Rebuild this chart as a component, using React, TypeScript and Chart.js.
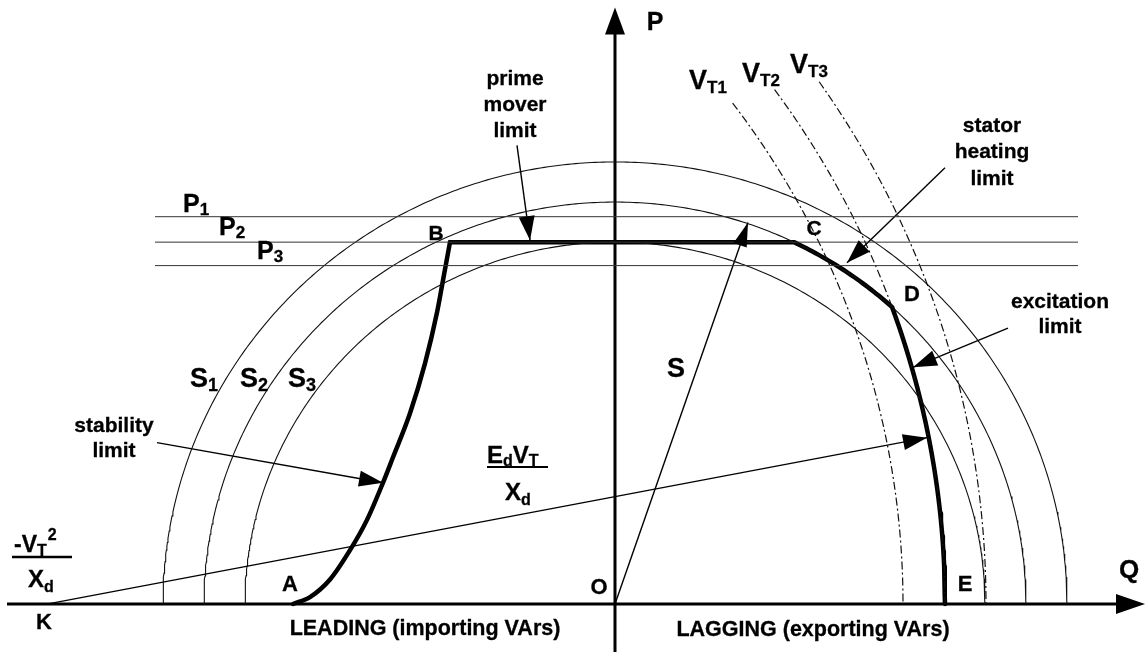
import React, { useEffect, useRef } from "react";
import { Chart, registerables } from "chart.js";

Chart.register(...registerables);

// ---- axis ranges (Q = reactive power, P = active power, arbitrary MVA units) ----
const Q_MIN = -615;
const Q_MAX = 533;
const P_MIN = -49.1;
const P_MAX = 617.6;

// ---- data ----
const statorRadii = [452, 411, 370]; // S1, S2, S3 circles centred at O
const statorNames = ["1", "2", "3"];
const primeMoverLevels = [396, 370, 346]; // P1, P2, P3
const levelQRange = [-460, 463];
const kQ = -567; // K = -VT^2 / Xd
const voltageRadii = [855, 897, 938]; // VT1, VT2, VT3 circles centred at K
const voltageStartDeg = [36.8, 35.9, 34.7];
const voltageNames = ["T1", "T2", "T3"];
const operatingP = 370; // prime mover limit (P2)
const ratedS = 411; // stator heating limit (S2)
const excitationRadius = 897; // EdVT/Xd
const stabilityQ = [-322, -305, -285, -265, -248, -232, -222, -205, -190, -178, -172, -165];
const stabilityP = [0, 7, 25, 55, 86, 124, 150, 195, 246, 298, 331, 370];
const sArrowTip = [133, 390];
const edArrowTip = [312, 170];
const annotationArrows = [
  { from: [-458, 165], to: [-232, 124] }, // stability limit
  { from: [-98, 469], to: [-85, 372] }, // prime mover limit
  { from: [330, 446], to: [232, 349] }, // stator heating limit
  { from: [393, 282], to: [298, 242] }, // excitation limit
];
const qAxisRange = [-608, 530];
const pAxisRange = [-49, 610];

const FONT = '"Liberation Sans", Arial, Helvetica, sans-serif';

type Pt = { x: number; y: number };

function arcPoints(cq: number, r: number, fromDeg: number, toDeg: number): Pt[] {
  const pts: Pt[] = [];
  const n = Math.max(2, Math.ceil(Math.abs(toDeg - fromDeg) / 0.5));
  for (let i = 0; i <= n; i++) {
    const a = ((fromDeg + ((toDeg - fromDeg) * i) / n) * Math.PI) / 180;
    pts.push({ x: cq + r * Math.cos(a), y: r * Math.sin(a) });
  }
  return pts;
}

function lineDs(data: Pt[], width: number, color = "#000", extra: any = {}) {
  return {
    data,
    showLine: true,
    borderColor: color,
    borderWidth: width,
    pointRadius: 0,
    pointHoverRadius: 0,
    fill: false,
    tension: 0,
    ...extra,
  };
}

function buildDatasets() {
  const ds: any[] = [];
  primeMoverLevels.forEach((p) => {
    ds.push(lineDs([{ x: levelQRange[0], y: p }, { x: levelQRange[1], y: p }], 1, "#333"));
  });
  statorRadii.forEach((r) => ds.push(lineDs(arcPoints(0, r, 180, 0), 1.1, "#111")));
  voltageRadii.forEach((r, i) =>
    ds.push(lineDs(arcPoints(kQ, r, voltageStartDeg[i], 0), 1.2, "#111", { borderDash: [8, 3, 2, 3] }))
  );
  ds.push(lineDs([{ x: kQ, y: 0 }, { x: edArrowTip[0], y: edArrowTip[1] }], 1.3));
  ds.push(lineDs([{ x: 0, y: 0 }, { x: sArrowTip[0], y: sArrowTip[1] }], 1.4));
  annotationArrows.forEach((a) =>
    ds.push(lineDs([{ x: a.from[0], y: a.from[1] }, { x: a.to[0], y: a.to[1] }], 1.4))
  );
  ds.push(
    lineDs(
      stabilityQ.map((q, i) => ({ x: q, y: stabilityP[i] })),
      4.5,
      "#000",
      { cubicInterpolationMode: "monotone", borderCapStyle: "round", borderJoinStyle: "round" }
    )
  );
  const c = -kQ;
  const qC = Math.sqrt(ratedS * ratedS - operatingP * operatingP);
  const qD = (excitationRadius ** 2 - ratedS ** 2 - c * c) / (2 * c);
  const pD = Math.sqrt(ratedS ** 2 - qD ** 2);
  const angC = (Math.atan2(operatingP, qC) * 180) / Math.PI;
  const angD = (Math.atan2(pD, qD) * 180) / Math.PI;
  const angDK = (Math.atan2(pD, qD - kQ) * 180) / Math.PI;
  const env: Pt[] = [
    { x: stabilityQ[stabilityQ.length - 1], y: operatingP },
    ...arcPoints(0, ratedS, angC, angD),
    ...arcPoints(kQ, excitationRadius, angDK, 0),
  ];
  ds.push(lineDs(env, 4.5, "#000", { borderCapStyle: "round", borderJoinStyle: "round" }));
  ds.push(lineDs([{ x: qAxisRange[0], y: 0 }, { x: qAxisRange[1] - 20, y: 0 }], 3));
  ds.push(lineDs([{ x: 0, y: pAxisRange[0] }, { x: 0, y: pAxisRange[1] - 20 }], 3));
  return ds;
}

const labelPlugin = {
  id: "diagramLabels",
  afterDatasetsDraw(chart: any) {
    const ctx: CanvasRenderingContext2D = chart.ctx;
    const xs = chart.scales.x;
    const ys = chart.scales.y;
    const X = (q: number) => xs.getPixelForValue(q);
    const Y = (p: number) => ys.getPixelForValue(p);
    ctx.save();
    ctx.fillStyle = "#000";
    ctx.strokeStyle = "#000";

    const head = (q0: number, p0: number, q1: number, p1: number, len: number, half: number) => {
      const x0 = X(q0), y0 = Y(p0), x1 = X(q1), y1 = Y(p1);
      const a = Math.atan2(y1 - y0, x1 - x0);
      const c = Math.cos(a), s = Math.sin(a);
      ctx.beginPath();
      ctx.moveTo(x1, y1);
      ctx.lineTo(x1 - len * c + half * s, y1 - len * s - half * c);
      ctx.lineTo(x1 - len * c - half * s, y1 - len * s + half * c);
      ctx.closePath();
      ctx.fill();
    };
    head(qAxisRange[0], 0, qAxisRange[1], 0, 29, 10);
    head(0, pAxisRange[0], 0, pAxisRange[1], 27, 10);
    annotationArrows.forEach((a) => head(a.from[0], a.from[1], a.to[0], a.to[1], 24, 8));
    head(0, 0, sArrowTip[0], sArrowTip[1], 24, 7);
    head(kQ, 0, edArrowTip[0], edArrowTip[1], 24, 8);

    const text = (
      s: string, x: number, y: number, size: number,
      align: CanvasTextAlign = "center", base: CanvasTextBaseline = "alphabetic"
    ) => {
      ctx.font = `bold ${size}px ${FONT}`;
      ctx.textAlign = align;
      ctx.textBaseline = base;
      ctx.fillText(s, x, y);
      ctx.lineWidth = 0.3;
      ctx.strokeText(s, x, y);
      return ctx.measureText(s).width;
    };
    const tq = (s: string, q: number, p: number, size: number) => text(s, X(q), Y(p), size, "center", "middle");

    tq("P", 40, 594, 25);
    tq("Q", 514, 34, 26);
    tq("O", -16, 16, 22);
    tq("K", -571, -19, 22);
    tq("A", -325, 19, 22);
    tq("B", -179, 378, 21);
    tq("C", 199, 383, 21);
    tq("D", 297, 316, 22);
    tq("E", 350, 19, 22);
    tq("S", 61, 240, 27);
    tq("LEADING (importing VArs)", -190, -26, 21.5);
    tq("LAGGING (exporting VArs)", 198, -27, 21.5);

    const ann = (lines: string[], q: number, ps: number[]) =>
      lines.forEach((l, i) => text(l, X(q), Y(ps[i]), 21, "center", "alphabetic"));
    ann(["stability", "limit"], -501, [176, 150]);
    ann(["prime", "mover", "limit"], -100, [531, 504, 477]);
    ann(["stator", "heating", "limit"], 377, [483, 456, 428]);
    ann(["excitation", "limit"], 445, [303, 277]);

    const subLabel = (main: string, sub: string, q: number, p: number, ms: number, ss: number, dy: number) => {
      const x = X(q), y = Y(p);
      const w = text(main, x, y, ms, "left", "alphabetic");
      text(sub, x + w, y + dy, ss, "left", "alphabetic");
    };
    const sPos = [-425, -375, -327];
    statorNames.forEach((n, i) => subLabel("S", n, sPos[i], 222, 27, 18, 4));
    const pPos = [[-432, 401], [-396, 377], [-358, 353]];
    ["1", "2", "3"].forEach((n, i) => subLabel("P", n, pPos[i][0], pPos[i][1], 25, 17, 3));
    const vPos = [[74, 527], [127, 534], [175, 543]];
    voltageNames.forEach((n, i) => subLabel("V", n, vPos[i][0], vPos[i][1], 27, 17, 4));

    // -VT^2 / Xd
    {
      const x = X(-601), y = Y(53);
      const w1 = text("-V", x, y, 23, "left");
      const w2 = text("T", x + w1, y + 4, 16, "left");
      text("2", x + w1 + w2 + 1, y - 12, 16, "left");
      ctx.lineWidth = 2.5;
      ctx.beginPath();
      ctx.moveTo(X(-603), Y(48));
      ctx.lineTo(X(-543), Y(48));
      ctx.stroke();
      const xx = X(-587), yy = Y(17);
      const w3 = text("X", xx, yy, 24, "left");
      text("d", xx + w3, yy + 5, 16, "left");
    }
    // EdVT / Xd
    {
      const x = X(-128), y = Y(144);
      const w1 = text("E", x, y, 24, "left");
      const w2 = text("d", x + w1, y + 3, 16, "left");
      const w3 = text("V", x + w1 + w2, y, 24, "left");
      text("T", x + w1 + w2 + w3, y + 3, 16, "left");
      ctx.lineWidth = 2;
      ctx.beginPath();
      ctx.moveTo(X(-128), Y(140));
      ctx.lineTo(X(-67), Y(140));
      ctx.stroke();
      const xx = X(-110), yy = Y(106);
      const w4 = text("X", xx, yy, 24, "left");
      text("d", xx + w4, yy + 5, 16, "left");
    }
    ctx.restore();
  },
};

export default function App() {
  const ref = useRef<HTMLCanvasElement | null>(null);
  useEffect(() => {
    if (!ref.current) return;
    const chart = new Chart(ref.current, {
      type: "scatter",
      data: { datasets: buildDatasets() },
      options: {
        animation: false,
        responsive: false,
        devicePixelRatio: 1,
        layout: { padding: 0 },
        events: [],
        plugins: { legend: { display: false }, tooltip: { enabled: false } },
        scales: {
          x: { type: "linear", min: Q_MIN, max: Q_MAX, display: false },
          y: { type: "linear", min: P_MIN, max: P_MAX, display: false },
        },
      } as any,
      plugins: [labelPlugin],
    });
    return () => chart.destroy();
  }, []);
  return (
    <div style={{ position: "absolute", left: 0, top: 0, width: 1148, height: 652, background: "#fff" }}>
      <canvas ref={ref} width={1148} height={652} />
    </div>
  );
}
